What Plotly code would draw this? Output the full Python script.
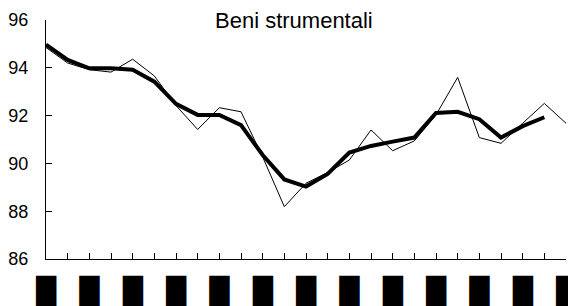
import plotly.graph_objects as go

# data (monthly index, 25 periods)
period_index = list(range(25))
x_labels = ["█" if i % 2 == 0 else "" for i in range(25)]
monthly = [94.85, 94.2, 93.92, 93.82, 94.36, 93.66, 92.42, 91.42, 92.33, 92.16,
           90.27, 88.19, 89.17, 89.62, 90.14, 91.4, 90.53, 90.94, 92.03, 93.6,
           91.08, 90.84, 91.68, 92.51, 91.68]
trend = [94.97, 94.33, 93.98, 93.98, 93.92, 93.42, 92.49, 92.03, 92.03, 91.6,
         90.35, 89.33, 89.03, 89.56, 90.45, 90.73, 90.91, 91.08, 92.11, 92.16,
         91.85, 91.08, 91.56, 91.93, None]
y_ticks = [86, 88, 90, 92, 94, 96]
title_text = "Beni strumentali"

fig = go.Figure()
fig.add_trace(go.Scatter(x=period_index, y=monthly, mode="lines",
                         line=dict(color="black", width=1), showlegend=False))
fig.add_trace(go.Scatter(x=period_index, y=trend, mode="lines",
                         line=dict(color="black", width=4), showlegend=False))

fig.update_layout(
    width=576, height=306,
    margin=dict(l=38, r=18, t=12, b=55),
    paper_bgcolor="white", plot_bgcolor="white",
    font=dict(family="Liberation Sans, Arial, sans-serif", color="black"),
    showlegend=False,
    annotations=[dict(text=title_text, xref="paper", yref="paper",
                      x=0.476, y=0.996, xanchor="center", yanchor="middle",
                      showarrow=False, font=dict(size=22, color="black"))],
)
fig.update_xaxes(range=[0, 24], tickmode="array", tickvals=period_index,
                 ticktext=x_labels, ticks="inside", ticklen=6, tickcolor="black",
                 tickwidth=1, showline=True, linecolor="black", linewidth=1,
                 showgrid=False, zeroline=False, automargin=False,
                 ticklabelstandoff=9,
                 tickfont=dict(family="DejaVu Sans", size=26, color="black"))
fig.update_yaxes(range=[86, 96], tickmode="array", tickvals=y_ticks,
                 ticks="inside", ticklen=6, tickcolor="black", tickwidth=1,
                 showline=True, linecolor="black", linewidth=1,
                 showgrid=False, zeroline=False, ticklabelstandoff=13,
                 automargin=False,
                 tickfont=dict(size=18, color="black"))

fig.write_html("out.html")
